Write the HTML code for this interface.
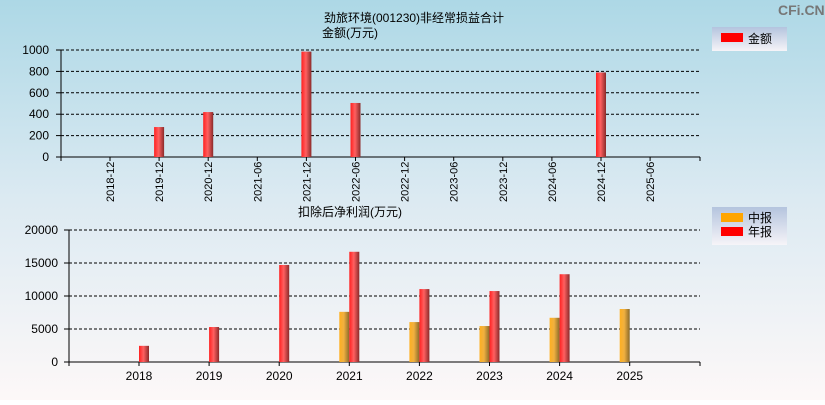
<!DOCTYPE html>
<html><head><meta charset="utf-8">
<style>
body{margin:0;width:825px;height:400px;overflow:hidden;font-family:"Liberation Sans","Noto Sans CJK SC",sans-serif;}
svg text{font-family:"Liberation Sans","Noto Sans CJK SC",sans-serif;}
</style></head>
<body>
<svg id="c" width="825" height="400" xmlns="http://www.w3.org/2000/svg">
<defs>
<linearGradient id="bg" x1="0" y1="0" x2="0" y2="1">
<stop offset="0" stop-color="#add8e6"/><stop offset="0.5" stop-color="#dceaf2"/><stop offset="1" stop-color="#fdf8f8"/>
</linearGradient>
<linearGradient id="red" x1="0" y1="0" x2="1" y2="0">
<stop offset="0" stop-color="#ff2020"/><stop offset="0.45" stop-color="#ff6060"/><stop offset="1" stop-color="#8a2a2a"/>
</linearGradient>
<linearGradient id="ora" x1="0" y1="0" x2="1" y2="0">
<stop offset="0" stop-color="#ffb020"/><stop offset="0.45" stop-color="#f0b040"/><stop offset="1" stop-color="#8a6a2a"/>
</linearGradient>
<linearGradient id="leg" x1="0" y1="0" x2="0" y2="1">
<stop offset="0" stop-color="#b4c4de"/><stop offset="1" stop-color="#f6f4f8"/>
</linearGradient>
</defs>
<rect width="825" height="400" fill="url(#bg)"/>
<text x="778" y="15" font-size="14" fill="#777" font-weight="bold">CFi.CN</text>
<g id="top"></g>
<g id="bot"></g>
</svg>
<script>
const topCats=["2018-12","2019-12","2020-12","2021-06","2021-12","2022-06","2022-12","2023-06","2023-12","2024-06","2024-12","2025-06"];
const topVals=[0,280,420,0,985,505,0,0,0,0,790,0];
const topTicks=[0,200,400,600,800,1000];
const botCats=["2018","2019","2020","2021","2022","2023","2024","2025"];
const botAnnual=[2450,5300,14700,16700,11050,10750,13300,0];
const botMid=[0,0,0,7600,6050,5450,6700,8030];
const botTicks=[0,5000,10000,15000,20000];

const NS="http://www.w3.org/2000/svg";
function mk(p,t,a,txt){const e=document.createElementNS(NS,t);for(const k in a)e.setAttribute(k,a[k]);if(txt!==undefined)e.textContent=txt;p.appendChild(e);return e;}

// top chart
const T=document.getElementById('top');
const tx=i=>110+i*49.1, ty=v=>157-v/1000*107;
mk(T,'text',{x:324,y:22,'font-size':12,fill:'#000',},'劲旅环境(001230)非经常损益合计');
mk(T,'text',{x:322,y:37,'font-size':12,fill:'#000',},'金额(万元)');
topTicks.forEach(v=>{
 if(v>0){const l=mk(T,'line',{x1:61,x2:700,y1:ty(v),y2:ty(v),stroke:'#000','stroke-dasharray':'3,2'});}
 mk(T,'line',{x1:56,x2:61,y1:ty(v),y2:ty(v),stroke:'#000'});
 const t=mk(T,'text',{x:49,y:ty(v)+4,'font-size':12,'text-anchor':'end',fill:'#000'},String(v));
 
});
mk(T,'line',{x1:61,x2:61,y1:ty(1000),y2:161,stroke:'#000',});
mk(T,'line',{x1:61,x2:700,y1:157,y2:157,stroke:'#000',});
mk(T,'line',{x1:700,x2:700,y1:157,y2:161,stroke:'#000'});
topCats.forEach((c,i)=>{
 const x=tx(i);
 mk(T,'line',{x1:x,x2:x,y1:157,y2:161,stroke:'#000'});
 const t=mk(T,'text',{transform:`translate(${x+4},202) rotate(-90)`,'font-size':11,fill:'#000'},c);
 
 if(topVals[i]>0){const r=mk(T,'rect',{x:x-5,y:ty(topVals[i]),width:10,height:157-ty(topVals[i]),fill:'url(#red)'});
 }
});
mk(T,'rect',{x:712,y:27,width:75,height:24,fill:'url(#leg)',});
mk(T,'rect',{x:721,y:33,width:22,height:9,fill:'#ff0000',});
mk(T,'text',{x:748,y:43,'font-size':12,fill:'#000',},'金额');

// bottom chart
const B=document.getElementById('bot');
const bx=i=>139+i*70.1, by=v=>362-v/20000*132;
mk(B,'text',{x:298,y:216,'font-size':12,fill:'#000',},'扣除后净利润(万元)');
botTicks.forEach(v=>{
 if(v>0){const l=mk(B,'line',{x1:69,x2:700,y1:by(v),y2:by(v),stroke:'#000','stroke-dasharray':'3,2'});}
 mk(B,'line',{x1:64,x2:69,y1:by(v),y2:by(v),stroke:'#000'});
 const t=mk(B,'text',{x:58,y:by(v)+4,'font-size':12,'text-anchor':'end',fill:'#000'},String(v));
 
});
mk(B,'line',{x1:69,x2:69,y1:by(20000),y2:366,stroke:'#000',});
mk(B,'line',{x1:69,x2:700,y1:362,y2:362,stroke:'#000',});
mk(B,'line',{x1:700,x2:700,y1:362,y2:366,stroke:'#000'});
botCats.forEach((c,i)=>{
 const x=bx(i);
 mk(B,'line',{x1:x,x2:x,y1:362,y2:366,stroke:'#000'});
 const t=mk(B,'text',{x:x,y:380,'font-size':12,'text-anchor':'middle',fill:'#000'},c);
 
 if(botMid[i]>0){const r=mk(B,'rect',{x:x-10,y:by(botMid[i]),width:10,height:362-by(botMid[i]),fill:'url(#ora)'});
 }
 if(botAnnual[i]>0){const r=mk(B,'rect',{x:x,y:by(botAnnual[i]),width:10,height:362-by(botAnnual[i]),fill:'url(#red)'});
 }
});
mk(B,'rect',{x:712,y:207,width:75,height:38,fill:'url(#leg)',});
mk(B,'rect',{x:721,y:213,width:22,height:9,fill:'#ffa500',});
mk(B,'text',{x:748,y:222,'font-size':12,fill:'#000',},'中报');
mk(B,'rect',{x:721,y:227,width:22,height:9,fill:'#ff0000',});
mk(B,'text',{x:748,y:236,'font-size':12,fill:'#000',},'年报');
</script>
</body></html>
